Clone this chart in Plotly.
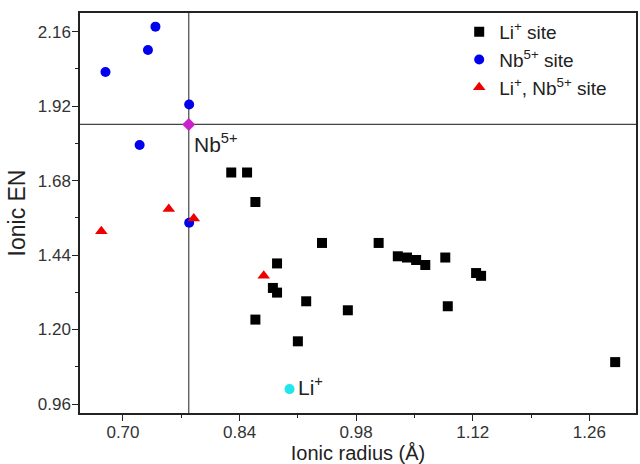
import plotly.graph_objects as go

# Data
li_x = [0.830, 0.849, 0.859, 0.885, 0.880, 0.885, 0.920, 0.859, 0.910,
        0.939, 1.007, 1.030, 1.041, 1.052, 1.063, 1.087, 1.124, 1.130,
        0.970, 1.090, 1.291]
li_y = [1.706, 1.706, 1.611, 1.413, 1.334, 1.319, 1.291, 1.232, 1.162,
        1.479, 1.479, 1.436, 1.432, 1.424, 1.408, 1.432, 1.382, 1.373,
        1.262, 1.275, 1.095]

nb_x = [0.679, 0.730, 0.739, 0.7795, 0.720, 0.7795]
nb_y = [2.030, 2.101, 2.176, 1.925, 1.7945, 1.544]

both_x = [0.674, 0.755, 0.785, 0.869]
both_y = [1.517, 1.588, 1.558, 1.373]

nb_ref_x = [0.779]
nb_ref_y = [1.861]
li_ref_x = [0.900]
li_ref_y = [1.008]

FONT = "Arial, Liberation Sans, sans-serif"

fig = go.Figure()
fig.add_trace(go.Scatter(x=li_x, y=li_y, mode="markers", name="Li<sup>+</sup> site",
                         marker=dict(symbol="square", size=10, color="black")))
fig.add_trace(go.Scatter(x=nb_x, y=nb_y, mode="markers", name="Nb<sup>5+</sup> site",
                         marker=dict(symbol="circle", size=10, color="#0000ee")))
fig.add_trace(go.Scatter(x=both_x, y=both_y, mode="markers", name="Li<sup>+</sup>, Nb<sup>5+</sup> site",
                         marker=dict(symbol="triangle-up", size=11, color="#ee0000")))
fig.add_trace(go.Scatter(x=nb_ref_x, y=nb_ref_y, mode="markers", showlegend=False,
                         marker=dict(symbol="diamond", size=10, color="#cc22cc")))
fig.add_trace(go.Scatter(x=li_ref_x, y=li_ref_y, mode="markers", showlegend=False,
                         marker=dict(symbol="circle", size=10, color="#22e5ee")))

fig.add_shape(type="line", xref="x", yref="paper", x0=nb_ref_x[0], x1=nb_ref_x[0], y0=0, y1=1,
              line=dict(color="#444444", width=1.2), layer="below")
fig.add_shape(type="line", xref="paper", yref="y", x0=0, x1=1, y0=nb_ref_y[0], y1=nb_ref_y[0],
              line=dict(color="#444444", width=1.2), layer="below")

fig.add_annotation(x=nb_ref_x[0], y=nb_ref_y[0], text="Nb<sup>5+</sup>", showarrow=False,
                   xanchor="left", yanchor="top", xshift=3, yshift=-4,
                   font=dict(family=FONT, size=21, color="#222222"))
fig.add_annotation(x=li_ref_x[0], y=li_ref_y[0], text="Li<sup>+</sup>", showarrow=False,
                   xanchor="left", yanchor="middle", xshift=6, yshift=3,
                   font=dict(family=FONT, size=21, color="#222222"))

fig.update_layout(
    width=640, height=464,
    margin=dict(l=80, r=2, t=13, b=51),
    plot_bgcolor="white", paper_bgcolor="white",
    font=dict(family=FONT, size=17, color="#333333"),
    showlegend=True,
    legend=dict(x=0.682, y=1.0, xanchor="left", yanchor="top",
                bgcolor="rgba(255,255,255,0)", borderwidth=0,
                font=dict(family=FONT, size=19, color="#222222"),
                itemwidth=30),
    xaxis=dict(range=[0.6484, 1.316], tick0=0.70, dtick=0.14, tickformat=".2f",
               showgrid=False, zeroline=False, showline=True, linecolor="#222222",
               linewidth=1.5, mirror=True, ticks="outside", ticklen=6, tickwidth=1.3,
               tickcolor="#222222", ticklabelstandoff=-3,
               minor=dict(dtick=0.07, tick0=0.70, ticks="outside", ticklen=3, tickcolor="#222222"),
               title=dict(text="Ionic radius (Å)", font=dict(size=20, family=FONT, color="#222222"), standoff=6)),
    yaxis=dict(range=[0.931, 2.22], tick0=0.96, dtick=0.24, tickformat=".2f",
               showgrid=False, zeroline=False, showline=True, linecolor="#222222",
               linewidth=1.5, mirror=True, ticks="outside", ticklen=6, tickwidth=1.3,
               tickcolor="#222222", ticklabelstandoff=-2,
               minor=dict(dtick=0.12, tick0=0.96, ticks="outside", ticklen=3, tickcolor="#222222"),
               title=dict(text="Ionic EN", font=dict(size=23, family=FONT, color="#222222"), standoff=6)),
)

fig.write_html("out.html")
